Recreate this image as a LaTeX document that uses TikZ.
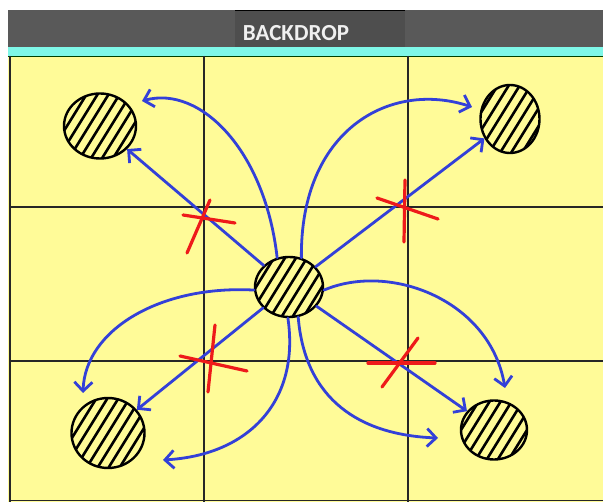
\documentclass[tikz,border=0pt]{standalone}
\usepackage{fontspec}
\newfontfamily\hdrfont{Carlito}
\usepackage{tikz}
\usetikzlibrary{positioning,calc,shapes.geometric,arrows.meta}
\definecolor{padyellow}{HTML}{FFFB98}
\definecolor{barcyan}{HTML}{7FF7E8}
\definecolor{bargray}{HTML}{595959}
\definecolor{tabgray}{HTML}{4E4E4E}
\definecolor{penblue}{HTML}{3340D8}
\definecolor{penred}{HTML}{EE1A1A}

\begin{document}
\begin{tikzpicture}[x=1pt,y=-1pt,
  gridline/.style={line width=1.3pt, draw=black!85},
  ball/.style={ellipse, draw=black, fill=padyellow, line width=2.4pt, inner sep=0pt,
    path picture={\foreach \k in {-44,-33,...,44}{
      \draw[line width=2.6pt, line cap=round] ($(path picture bounding box.center)+(\k,0)$) +(-26,42) -- +(26,-42);}}},
  pass/.style={line width=2.8pt, draw=penblue, line cap=round, -{Straight Barb[length=9pt,width=18pt]}},
  cross/.style={line width=3.2pt, draw=penred, line cap=round},
]
\useasboundingbox (0,0) rectangle (603,502);
\fill[white] (0,0) rectangle (603,502);
% header bar
\fill[bargray] (8,10) rectangle (603,47);
\fill[tabgray] (235,10) rectangle (405,47);
\draw[black, line width=1.5pt] (235,10.7) -- (405,10.7);
\node[font=\hdrfont\bfseries\fontsize{23}{26}\selectfont, text=white!94!black] (title) at (296,33) {BACKDROP};
\fill[barcyan] (8,47) rectangle (603,56);
% pad and grid
\fill[padyellow] (8,56) rectangle (603,502);
\draw[black!75!green, line width=1.5pt] (8,56.7) -- (603,56.7);
\draw[black!85, line width=2.5pt] (10,56) -- (10,502);
\draw[black!85, line width=1.2pt] (10,500.5) -- (603,500.5);
\foreach \gx in {204,408} \draw[gridline] (\gx,56) -- (\gx,502);
\foreach \gy in {207,361} \draw[gridline] (10,\gy) -- (603,\gy);
% balls
\node[ball, minimum width=72pt, minimum height=65pt] (tl) at (100,126) {};
\node[ball, minimum width=59pt, minimum height=68pt] (tr) at (510,119) {};
\node[ball, minimum width=68pt, minimum height=60pt] (ctr) at (289,287) {};
\node[ball, minimum width=73pt, minimum height=70pt] (bl) at (108,433) {};
\node[ball, minimum width=66pt, minimum height=59pt] (br) at (494,430) {};
% free ends of the curved passes
\coordinate (tlTip) at (142,101);
\coordinate (trTip) at (472,107);
\coordinate (brTip) at (505,388);
\coordinate (brLow) at (438,438);
\coordinate (blTip) at (83,393);
\coordinate (blLow) at (163,460);
% straight passes
\foreach \tgt in {tl,tr,bl,br} \draw[pass] (ctr) -- (\tgt);
% curved passes
\draw[pass] (ctr.112) .. controls (265,150) and (200,85) .. (tlTip);
\draw[pass] (ctr.67) .. controls (300,130) and (390,80) .. (trTip);
\draw[pass] (ctr.-5) .. controls (390,262) and (490,300) .. (brTip);
\draw[pass] (ctr.-73) .. controls (305,400) and (360,435) .. (brLow);
\draw[pass] (ctr.185) .. controls (160,285) and (85,330) .. (blTip);
\draw[pass] (ctr.-92) .. controls (300,400) and (250,455) .. (blLow);
% crossed-out lanes
\foreach \ax/\ay/\bx/\by in {183/215/235/223, 210/200/187/253,
                             405/180/404/242, 377/198/438/219,
                             215/325/208/392, 180/356/247/371,
                             368/363/435/363, 418/338/382/387}
  \draw[cross] (\ax,\ay) -- (\bx,\by);
\end{tikzpicture}
\end{document}
